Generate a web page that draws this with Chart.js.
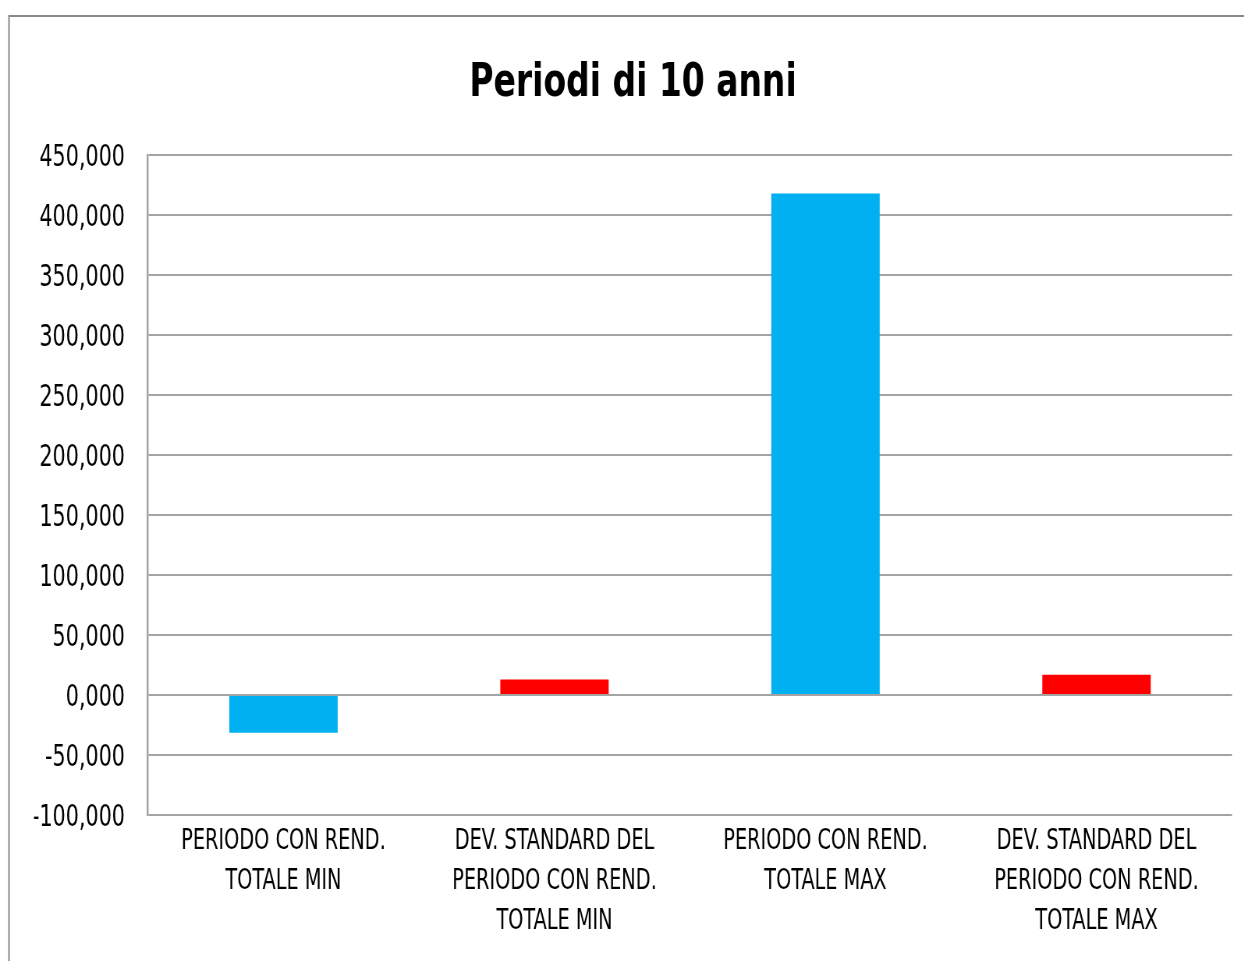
<!DOCTYPE html>
<html>
<head>
<meta charset="utf-8">
<script src="https://cdn.jsdelivr.net/npm/chart.js@4/dist/chart.umd.min.js"></script>
<style>
  html, body { margin: 0; padding: 0; background: #ffffff; overflow: hidden; }
  /* The chart is drawn wide and compressed horizontally for condensed lettering */
  #wrap { width: 1595px; height: 961px; transform: scaleX(0.78); transform-origin: 0 0; }
</style>
</head>
<body>
<div id="wrap"><canvas id="c" width="1595" height="961"></canvas></div>
<script>
// Categories (multi-line labels) and values
const categories = [
  ["PERIODO CON REND.", "TOTALE MIN"],
  ["DEV. STANDARD DEL", "PERIODO CON REND.", "TOTALE MIN"],
  ["PERIODO CON REND.", "TOTALE MAX"],
  ["DEV. STANDARD DEL", "PERIODO CON REND.", "TOTALE MAX"]
];
const values = [-31.5, 12.9, 418.0, 16.8];
const barColors = ["#00B0F0", "#FF0000", "#00B0F0", "#FF0000"];
const yMin = -100;
const yMax = 450;
const yStep = 50;

const FONT = "'DejaVu Sans Condensed', 'Liberation Sans', sans-serif";
const PAD_LEFT = 43.6;

// Outer frame around the chart
const framePlugin = {
  id: 'frame',
  beforeDraw(chart) {
    const ctx = chart.ctx;
    ctx.save();
    ctx.fillStyle = '#ffffff';
    ctx.fillRect(0, 0, chart.width, chart.height);
    ctx.strokeStyle = '#8a8a8a';
    ctx.lineWidth = 2;
    ctx.beginPath();
    ctx.moveTo(11.5, chart.height + 2);
    ctx.lineTo(11.5, 16);
    ctx.lineTo(chart.width + 2, 16);
    ctx.stroke();
    ctx.restore();
  }
};

new Chart(document.getElementById('c'), {
  type: 'bar',
  data: {
    labels: categories,
    datasets: [{
      data: values,
      backgroundColor: barColors,
      borderWidth: 0,
      barPercentage: 0.4,
      categoryPercentage: 1.0
    }]
  },
  options: {
    responsive: false,
    animation: false,
    devicePixelRatio: 1,
    layout: { padding: { top: 0, left: PAD_LEFT, right: 15.5, bottom: 0 } },
    plugins: {
      legend: { display: false },
      tooltip: { enabled: false },
      title: {
        display: true,
        text: 'Periodi di 10 anni',
        color: '#000000',
        font: { family: FONT, size: 47, weight: 'bold', lineHeight: 1.2 },
        padding: { top: 56, bottom: 42.6 }
      }
    },
    scales: {
      x: {
        grid: { display: false, drawTicks: false },
        border: { display: false },
        ticks: {
          color: '#000000',
          font: { family: FONT, size: 27.5, lineHeight: 1.45 },
          padding: 7,
          maxRotation: 0,
          minRotation: 0,
          autoSkip: false
        },
        afterFit(scale) { scale.height = 146; }
      },
      y: {
        min: yMin,
        max: yMax,
        grid: { color: '#a3a3a3', lineWidth: 2, drawTicks: false },
        border: { display: true, color: '#a3a3a3', width: 2.5 },
        ticks: {
          stepSize: yStep,
          color: '#000000',
          font: { family: FONT, size: 29.5 },
          padding: 29.5,
          labelOffset: 3,
          callback: (v) => v.toFixed(3).replace('.', ',')
        },
        afterFit(scale) { scale.width = 189.7 - PAD_LEFT; }
      }
    }
  },
  plugins: [framePlugin]
});
</script>
</body>
</html>
